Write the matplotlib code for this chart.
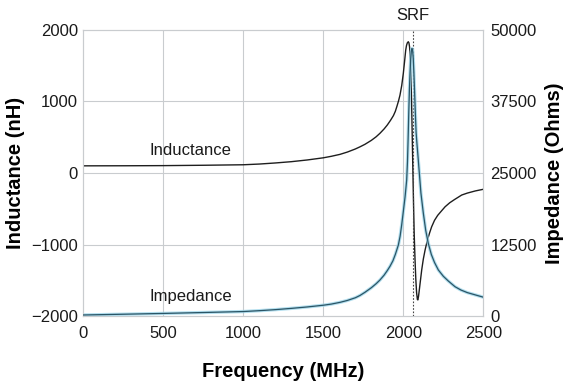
import matplotlib
matplotlib.use("Agg")
import matplotlib.pyplot as plt

plt.rcParams['font.family'] = ['Liberation Sans', 'DejaVu Sans']

# Inductance series (nH)
freq_L = [0, 250, 500, 750, 1000, 1100, 1200, 1300, 1400, 1500, 1550, 1604, 1650, 1700,
          1729, 1760, 1800, 1830, 1854, 1880, 1900, 1920, 1938, 1950, 1960, 1970, 1979,
          1990, 2000, 2008, 2015, 2020, 2025, 2031, 2035, 2039, 2042, 2045, 2048, 2051,
          2054, 2057, 2060, 2064, 2068, 2073, 2078, 2083, 2088, 2091, 2095, 2100, 2108,
          2115, 2125, 2136, 2150, 2165, 2177, 2195, 2215, 2240, 2261, 2290, 2320, 2365,
          2400, 2450, 2500]
inductance = [100, 101, 103, 108, 115, 125, 140, 158, 182, 212, 233, 260, 292, 335,
              365, 400, 455, 505, 554, 615, 670, 735, 800, 860, 930, 1005, 1085,
              1220, 1390, 1560, 1715, 1780, 1815, 1831, 1815, 1760, 1660, 1520, 1320, 1050,
              720, 350, 0, -450, -850, -1200, -1480, -1670, -1765, -1770, -1720, -1630, -1480,
              -1350, -1200, -1074, -940, -830, -750, -660, -590, -525, -471, -415, -370, -307,
              -280, -250, -227]

# Impedance series (Ohms)
freq_Z = [0, 250, 500, 750, 1000, 1100, 1200, 1300, 1400, 1500, 1550, 1604, 1650, 1700, 1729,
          1760, 1800, 1830, 1854, 1880, 1900, 1917, 1935, 1950, 1969, 1980, 1990, 2000,
          2011, 2021, 2026, 2030, 2034, 2038, 2042, 2046, 2050, 2054, 2058, 2062, 2066,
          2070, 2075, 2080, 2086, 2090, 2100, 2110, 2125, 2140, 2156, 2175, 2195, 2219,
          2250, 2280, 2323, 2360, 2400, 2450, 2500]
impedance = [250, 380, 520, 680, 850, 1000, 1180, 1400, 1650, 1950, 2150, 2450, 2780, 3250, 3650,
             4200, 5000, 5700, 6350, 7200, 8000, 8750, 9700, 10800, 12450, 14000, 16000, 18300,
             20870, 23780, 27000, 31000, 35500, 39500, 42500, 44800, 46200, 46700, 46400, 45000, 42500,
             39500, 35500, 32000, 29800, 28500, 25000, 21500, 18000, 15000, 12740, 10800, 9400, 8090,
             7000, 6200, 5180, 4600, 4150, 3750, 3350]

x_ticks = [0, 500, 1000, 1500, 2000, 2500]
left_ticks = [-2000, -1000, 0, 1000, 2000]
right_ticks = [0, 12500, 25000, 37500, 50000]
srf = 2060

fig = plt.figure(figsize=(5.73, 3.87), dpi=100)
ax = fig.add_axes([0.1454, 0.1824, 0.8435 - 0.1454, 0.9235 - 0.1824])
ax2 = ax.twinx()

grid_c = '#c9cccf'
for v in x_ticks[1:-1]:
    ax.axvline(v, color=grid_c, lw=0.8, zorder=0)
for v in left_ticks[1:-1]:
    ax.axhline(v, color=grid_c, lw=0.8, zorder=0)

ax.plot(freq_L, inductance, color='#1e1e1e', lw=1.0, zorder=3)
ax2.plot(freq_Z, impedance, color='#9fd6ea', lw=2.4, alpha=0.8, zorder=2)
ax2.plot(freq_Z, impedance, color='#2a5566', lw=0.9, zorder=3)

ax.axvline(srf, color='#444444', lw=0.8, ls=(0, (1.5, 1.5)), zorder=4)

ax.set_xlim(0, 2500)
ax.set_ylim(-2000, 2000)
ax2.set_ylim(0, 50000)
ax.set_xticks(x_ticks)
ax.set_yticks(left_ticks)
ax2.set_yticks(right_ticks)
ax.set_xticklabels([str(t) for t in x_ticks])
ax.set_yticklabels(['\u22122000', '\u22121000', '0', '1000', '2000'])
ax2.set_yticklabels([str(t) for t in right_ticks])

for a in (ax, ax2):
    for s in a.spines.values():
        s.set_color(grid_c)
        s.set_linewidth(0.8)
ax.tick_params(axis='y', length=0, labelsize=12, colors='#1a1a1a', pad=4)
ax.tick_params(axis='x', length=0, labelsize=12, colors='#1a1a1a', pad=7)
ax2.tick_params(axis='y', length=0, labelsize=12, colors='#1a1a1a', pad=5)

ax.set_xlabel('Frequency (MHz)', fontsize=14.5, fontweight='bold', labelpad=15)
ax.set_ylabel('Inductance (nH)', fontsize=14.5, fontweight='bold', labelpad=4)
ax2.set_ylabel('Impedance (Ohms)', fontsize=14.5, fontweight='bold', labelpad=6)

ax.text(670, 310, 'Inductance', fontsize=12, ha='center', va='center', color='#1a1a1a')
ax.text(670, -1720, 'Impedance', fontsize=12, ha='center', va='center', color='#1a1a1a')
ax.text(srf, 2090, 'SRF', fontsize=12, ha='center', va='bottom', color='#1a1a1a')

fig.savefig('out.png', dpi=100)
